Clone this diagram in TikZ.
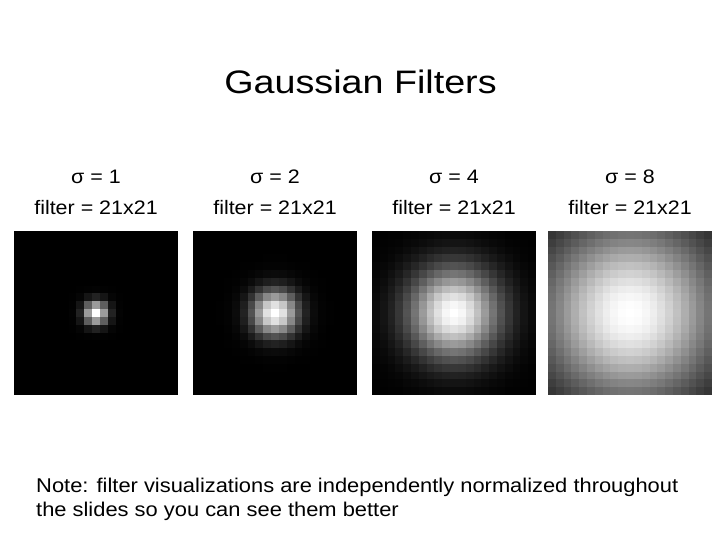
\documentclass[tikz,border=0pt]{standalone}
\usepackage{fontspec}
\setmainfont[FakeStretch=1.1]{Liberation Sans}
\newfontfamily\titlefont[FakeStretch=1.16]{Liberation Sans}
\begin{document}
\begin{tikzpicture}[x=1bp,y=-1bp,
  title/.style={inner sep=0pt,anchor=base,font=\titlefont\fontsize{32.5bp}{36bp}\selectfont},
  lab/.style={inner sep=0pt,anchor=base,font=\fontsize{19.5bp}{23bp}\selectfont},
  note/.style={inner sep=0pt,anchor=base west,font=\fontsize{19.9bp}{24bp}\selectfont}]
\useasboundingbox[fill=white] (0,0) rectangle (720,540);
\node[title] (t) at (360.5,93.3) {Gaussian Filters};
\def\cw{7.81}
\foreach \s/\xo/\nm in {1/14/a,2/193/b,4/372/c,8/548/d}{
  \foreach \i in {0,...,20}{
    \foreach \j in {0,...,20}{
      \pgfmathsetmacro\dd{min(((\i-10)^2+(\j-10)^2)/(2*\s*\s),12)}
      \pgfmathsetmacro\vv{exp(-\dd)}
      \definecolor{cc}{gray}{\vv}
      \fill[cc] ({\xo+\i*\cw},{231+\j*\cw}) rectangle ++(8.2,8.2);
    }
  }
  \node[lab] (s\nm) at ({\xo+82},184) {σ = \s};
  \node[lab] (f\nm) at ({\xo+82},214.3) {filter = 21x21};
}
\node[note] (n1) at (36,492.7) {Note: filter visualizations are independently normalized throughout};
\node[note] (n2) at (36,516.7) {the slides so you can see them better};
\end{tikzpicture}
\end{document}
